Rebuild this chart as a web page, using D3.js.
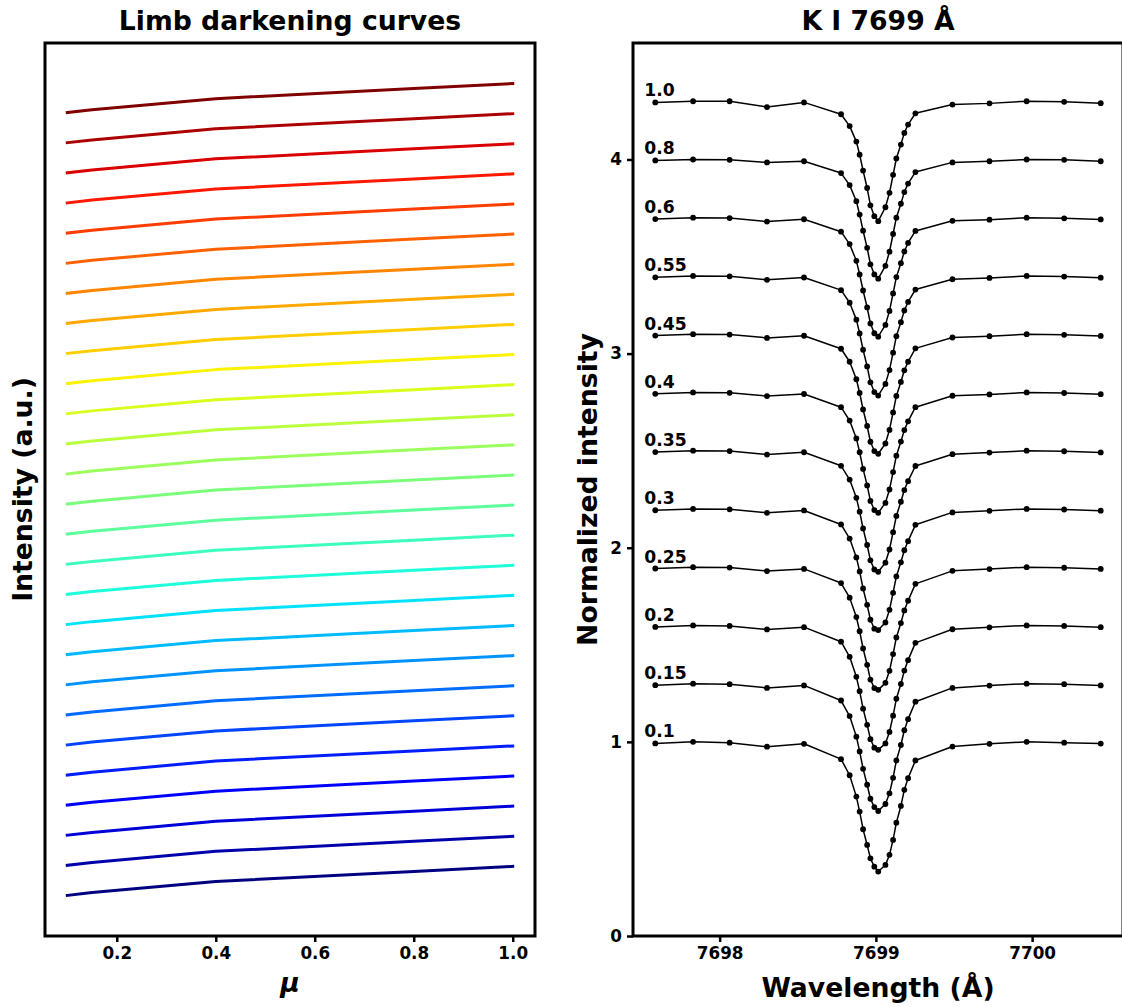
<!DOCTYPE html>
<html>
<head>
<meta charset="utf-8">
<script src="https://cdn.jsdelivr.net/npm/d3@7"></script>
<style>
  html, body { margin: 0; padding: 0; background: #fff; }
  svg { display: block; }
  text { font-family: "DejaVu Sans", sans-serif; font-weight: bold; fill: #000; }
</style>
</head>
<body>
<svg id="chart" width="1122" height="1007"></svg>
<script>
// ---------- Limb darkening panel ----------
// mu sample points and the base intensity profile shared by every curve
const limbMu = [0.1, 0.15, 0.4, 0.8, 1.0];
const limbProfile = [0.037, 0.13, 0.50, 0.835, 1.0];
// one curve per wavelength bin, stacked with a constant offset
const limbCurveCount = 27;
const limbOffsets = d3.range(limbCurveCount);   // 0, 1, 2, ... 26
const limbTicks = [0.2, 0.4, 0.6, 0.8, 1.0];

// ---------- K I 7699 line profiles ----------
const wavelengths = [
  7697.588, 7697.830, 7698.064, 7698.303, 7698.540,
  7698.777, 7698.832, 7698.875, 7698.896, 7698.918, 7698.944, 7698.965, 7698.990, 7699.015,
  7699.061, 7699.087, 7699.110, 7699.131, 7699.160, 7699.182, 7699.206, 7699.253,
  7699.490, 7699.727, 7699.965, 7700.205, 7700.439
];
const muLabels = ["0.1", "0.15", "0.2", "0.25", "0.3", "0.35", "0.4", "0.45", "0.55", "0.6", "0.8", "1.0"];
const spectrumOffsetStep = 0.3;

const flux_mu010 = [0.992, 1.000, 0.996, 0.975, 0.990, 0.911, 0.828, 0.718, 0.641, 0.550, 0.469, 0.400, 0.357, 0.332, 0.366, 0.418, 0.495, 0.584, 0.670, 0.753, 0.813, 0.904, 0.976, 0.990, 1.000, 0.996, 0.991];
const flux_mu015 = [0.992, 1.000, 0.997, 0.978, 0.991, 0.913, 0.833, 0.727, 0.651, 0.561, 0.479, 0.407, 0.364, 0.344, 0.380, 0.435, 0.515, 0.604, 0.684, 0.760, 0.817, 0.907, 0.978, 0.990, 1.000, 0.997, 0.991];
const flux_mu020 = [0.992, 1.000, 0.997, 0.979, 0.991, 0.916, 0.838, 0.735, 0.661, 0.571, 0.488, 0.414, 0.370, 0.359, 0.392, 0.451, 0.535, 0.622, 0.698, 0.767, 0.821, 0.910, 0.980, 0.990, 1.000, 0.997, 0.991];
const flux_mu025 = [0.993, 1.000, 0.998, 0.980, 0.991, 0.918, 0.843, 0.743, 0.670, 0.581, 0.497, 0.421, 0.377, 0.368, 0.404, 0.466, 0.552, 0.638, 0.712, 0.777, 0.827, 0.914, 0.981, 0.990, 1.000, 0.997, 0.991];
const flux_mu030 = [0.993, 1.000, 0.998, 0.980, 0.992, 0.920, 0.847, 0.750, 0.678, 0.590, 0.506, 0.429, 0.383, 0.376, 0.415, 0.480, 0.568, 0.652, 0.725, 0.787, 0.834, 0.918, 0.982, 0.990, 1.000, 0.997, 0.991];
const flux_mu035 = [0.993, 1.000, 0.998, 0.980, 0.992, 0.922, 0.851, 0.757, 0.686, 0.599, 0.514, 0.435, 0.388, 0.376, 0.423, 0.491, 0.580, 0.664, 0.737, 0.797, 0.843, 0.921, 0.982, 0.990, 1.000, 0.997, 0.991];
const flux_mu040 = [0.993, 1.000, 0.998, 0.981, 0.992, 0.924, 0.855, 0.763, 0.692, 0.606, 0.521, 0.441, 0.394, 0.380, 0.431, 0.500, 0.590, 0.674, 0.747, 0.806, 0.851, 0.924, 0.983, 0.990, 1.000, 0.997, 0.991];
const flux_mu045 = [0.993, 1.000, 0.998, 0.981, 0.992, 0.925, 0.858, 0.768, 0.697, 0.612, 0.527, 0.446, 0.398, 0.384, 0.437, 0.507, 0.597, 0.682, 0.754, 0.814, 0.858, 0.927, 0.983, 0.990, 1.000, 0.997, 0.991];
const flux_mu055 = [0.993, 1.000, 0.998, 0.980, 0.992, 0.927, 0.862, 0.775, 0.704, 0.620, 0.534, 0.452, 0.402, 0.384, 0.444, 0.515, 0.605, 0.690, 0.762, 0.822, 0.866, 0.930, 0.983, 0.990, 1.000, 0.997, 0.991];
const flux_mu060 = [0.993, 1.000, 0.998, 0.980, 0.992, 0.928, 0.864, 0.778, 0.708, 0.625, 0.538, 0.455, 0.405, 0.387, 0.448, 0.520, 0.610, 0.694, 0.766, 0.826, 0.870, 0.932, 0.984, 0.990, 1.000, 0.997, 0.991];
const flux_mu080 = [0.995, 1.000, 0.998, 0.985, 0.991, 0.930, 0.868, 0.785, 0.716, 0.633, 0.545, 0.460, 0.408, 0.386, 0.452, 0.525, 0.616, 0.700, 0.772, 0.832, 0.876, 0.935, 0.985, 0.991, 1.000, 0.998, 0.991];
const flux_mu100 = [0.994, 1.000, 1.000, 0.970, 0.994, 0.933, 0.872, 0.792, 0.725, 0.643, 0.553, 0.464, 0.408, 0.382, 0.454, 0.528, 0.621, 0.705, 0.777, 0.837, 0.880, 0.938, 0.983, 0.989, 1.000, 0.997, 0.990];

const spectra = [flux_mu010, flux_mu015, flux_mu020, flux_mu025, flux_mu030, flux_mu035,
                 flux_mu040, flux_mu045, flux_mu055, flux_mu060, flux_mu080, flux_mu100];
const wlTicks = [7698, 7699, 7700];
const intensityTicks = [0, 1, 2, 3, 4];

// ---------- helpers ----------
// matplotlib "jet" colormap as piecewise-linear channels
const jetR = d3.scaleLinear().domain([0, 0.35, 0.66, 0.89, 1]).range([0, 0, 1, 1, 0.5]).clamp(true);
const jetG = d3.scaleLinear().domain([0, 0.125, 0.375, 0.64, 0.91, 1]).range([0, 0, 1, 1, 0, 0]).clamp(true);
const jetB = d3.scaleLinear().domain([0, 0.11, 0.34, 0.65, 1]).range([0.5, 1, 1, 0, 0]).clamp(true);
const jet = t => d3.rgb(jetR(t) * 255, jetG(t) * 255, jetB(t) * 255).formatHex();

function padded(lo, hi) { const m = (hi - lo) * 0.05; return [lo - m, hi + m]; }

const svg = d3.select("#chart");
svg.append("rect").attr("width", 1122).attr("height", 1007).attr("fill", "#fff");

const plotTop = 43, plotBottom = 936;
const spineW = 3;
const tickFont = "16.8px";
const labelFont = "26.67px";

function styleAxis(axG) {
  axG.select(".domain").remove();
  axG.selectAll(".tick line").attr("stroke", "#000").attr("stroke-width", 2.5);
  axG.selectAll(".tick text").style("font-size", tickFont)
    .style("font-family", "DejaVu Sans").style("font-weight", "bold");
}

// ---------- left panel ----------
{
  const L = 45, R = 535;
  const x = d3.scaleLinear().domain(padded(0.1, 1.0)).range([L, R]);
  const yMin = d3.min(limbProfile) + limbOffsets[0];
  const yMax = d3.max(limbProfile) + limbOffsets[limbOffsets.length - 1];
  const y = d3.scaleLinear().domain(padded(yMin, yMax)).range([plotBottom, plotTop]);
  const g = svg.append("g");

  const line = d3.line().x(d => x(d[0])).y(d => y(d[1]));
  limbOffsets.forEach((off, i) => {
    const pts = limbMu.map((m, k) => [m, limbProfile[k] + off]);
    g.append("path").attr("d", line(pts)).attr("fill", "none")
      .attr("stroke", jet(i / (limbCurveCount - 1))).attr("stroke-width", 3)
      .attr("stroke-linecap", "square").attr("stroke-linejoin", "round");
  });

  const ax = d3.axisBottom(x).tickValues(limbTicks).tickFormat(d3.format(".1f"))
    .tickSizeInner(6).tickSizeOuter(0).tickPadding(5);
  styleAxis(g.append("g").attr("transform", `translate(0,${plotBottom})`).call(ax));

  g.append("rect").attr("x", L).attr("y", plotTop).attr("width", R - L).attr("height", plotBottom - plotTop)
    .attr("fill", "none").attr("stroke", "#000").attr("stroke-width", spineW);

  g.append("text").attr("x", (L + R) / 2).attr("y", 30).attr("text-anchor", "middle")
    .style("font-size", labelFont).text("Limb darkening curves");
  g.append("text").attr("x", (L + R) / 2).attr("y", 992).attr("text-anchor", "middle")
    .style("font-size", labelFont).style("font-style", "italic").text("μ");
  g.append("text").attr("transform", `translate(32,${(plotTop + plotBottom) / 2}) rotate(-90)`)
    .attr("text-anchor", "middle").style("font-size", labelFont).text("Intensity (a.u.)");
}

// ---------- right panel ----------
{
  const L = 633, R = 1123;
  const x = d3.scaleLinear().domain(padded(d3.min(wavelengths), d3.max(wavelengths))).range([L, R]);
  const y = d3.scaleLinear().domain([0, 4.6]).range([plotBottom, plotTop]);
  const g = svg.append("g");

  const line = d3.line().x(d => x(d[0])).y(d => y(d[1]));
  spectra.forEach((flux, i) => {
    const off = i * spectrumOffsetStep;
    const pts = wavelengths.map((w, k) => [w, flux[k] + off]);
    g.append("path").attr("d", line(pts)).attr("fill", "none")
      .attr("stroke", "#000").attr("stroke-width", 1.5).attr("stroke-linejoin", "round");
    g.selectAll(null).data(pts).enter().append("circle")
      .attr("cx", d => x(d[0])).attr("cy", d => y(d[1])).attr("r", 2.9).attr("fill", "#000");
    g.append("text").attr("x", x(wavelengths[0]) - 11).attr("y", y(flux[0] + off) - 6)
      .style("font-size", "17.2px").text(muLabels[i]);
  });

  const ax = d3.axisBottom(x).tickValues(wlTicks).tickFormat(d3.format("d"))
    .tickSizeInner(6).tickSizeOuter(0).tickPadding(5);
  styleAxis(g.append("g").attr("transform", `translate(0,${plotBottom})`).call(ax));

  const ay = d3.axisLeft(y).tickValues(intensityTicks).tickFormat(d3.format("d"))
    .tickSizeInner(6).tickSizeOuter(0).tickPadding(5);
  styleAxis(g.append("g").attr("transform", `translate(${L},0)`).call(ay));

  g.append("rect").attr("x", L).attr("y", plotTop).attr("width", R - L).attr("height", plotBottom - plotTop)
    .attr("fill", "none").attr("stroke", "#000").attr("stroke-width", spineW);

  g.append("text").attr("x", (L + R) / 2).attr("y", 30).attr("text-anchor", "middle")
    .style("font-size", labelFont).text("K I 7699 Å");
  g.append("text").attr("x", (L + R) / 2).attr("y", 997).attr("text-anchor", "middle")
    .style("font-size", labelFont).text("Wavelength (Å)");
  g.append("text").attr("transform", `translate(597,${(plotTop + plotBottom) / 2}) rotate(-90)`)
    .attr("text-anchor", "middle").style("font-size", labelFont).text("Normalized intensity");
}
</script>
</body>
</html>
